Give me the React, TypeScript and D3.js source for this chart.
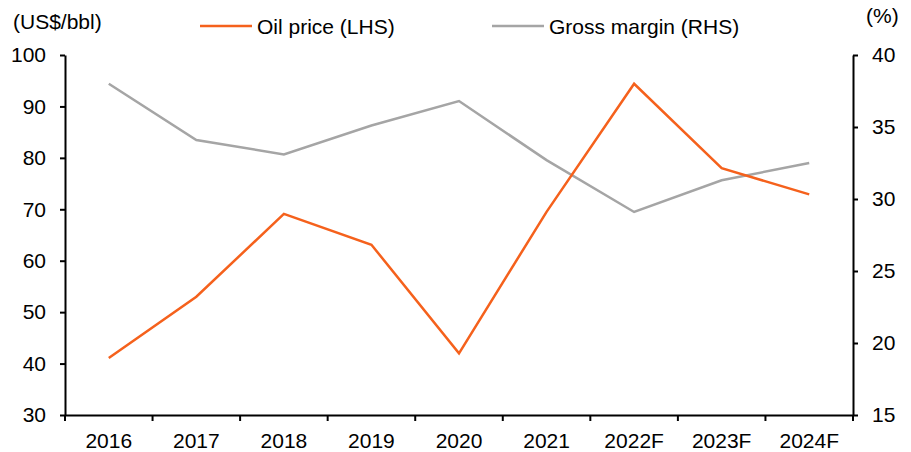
import { useEffect, useRef } from 'react';
import * as d3 from 'd3';

const years = ['2016', '2017', '2018', '2019', '2020', '2021', '2022F', '2023F', '2024F'];
const oilPrice = [41.1, 53.0, 69.1, 63.1, 42.0, 69.5, 94.4, 78.0, 72.9];
const grossMargin = [38.0, 34.1, 33.1, 35.1, 36.8, 32.7, 29.1, 31.3, 32.5];
const leftTicks = [30, 40, 50, 60, 70, 80, 90, 100];
const rightTicks = [15, 20, 25, 30, 35, 40];

const WIDTH = 911;
const HEIGHT = 452;
const FONT = '"Liberation Sans", Arial, sans-serif';
const FONT_SIZE = '21px';
const ORANGE = '#F5611C';
const GREY = '#A5A5A5';

export default function App() {
  const svgRef = useRef<SVGSVGElement>(null);

  useEffect(() => {
    document.body.style.margin = '0';
    if (!svgRef.current) return;

    const svg = d3.select(svgRef.current);
    svg.selectAll('*').remove();

    const margin = { top: 55, right: 58, bottom: 37, left: 65 };
    const x = d3.scaleBand()
      .domain(years)
      .range([margin.left, WIDTH - margin.right]);

    const yLeft = d3.scaleLinear()
      .domain([30, 100])
      .range([HEIGHT - margin.bottom, margin.top]);

    const yRight = d3.scaleLinear()
      .domain([15, 40])
      .range([HEIGHT - margin.bottom, margin.top]);

    const cx = (d: string) => (x(d) || 0) + x.bandwidth() / 2;

    // lines
    const oilLine = d3.line<number>()
      .x((_, i) => cx(years[i]))
      .y(d => yLeft(d));

    const marginLine = d3.line<number>()
      .x((_, i) => cx(years[i]))
      .y(d => yRight(d));

    svg.append('path')
      .datum(grossMargin)
      .attr('fill', 'none')
      .attr('stroke', GREY)
      .attr('stroke-width', 2.5)
      .attr('d', marginLine);

    svg.append('path')
      .datum(oilPrice)
      .attr('fill', 'none')
      .attr('stroke', ORANGE)
      .attr('stroke-width', 2.5)
      .attr('d', oilLine);

    const styleAxis = (g: d3.Selection<SVGGElement, unknown, null, undefined>) => {
      g.select('.domain').attr('stroke', '#000').attr('stroke-width', 2);
      g.selectAll('.tick line').attr('stroke', '#000').attr('stroke-width', 2);
      g.selectAll('.tick text')
        .attr('fill', '#000')
        .style('font-family', FONT)
        .style('font-size', FONT_SIZE);
    };

    // left axis
    svg.append('g')
      .attr('transform', `translate(${margin.left},0)`)
      .call(d3.axisLeft(yLeft).tickValues(leftTicks).tickSize(5).tickPadding(14).tickSizeOuter(0))
      .call(styleAxis);

    // right axis
    svg.append('g')
      .attr('transform', `translate(${WIDTH - margin.right},0)`)
      .call(d3.axisRight(yRight).tickValues(rightTicks).tickSize(5).tickPadding(14).tickSizeOuter(0))
      .call(styleAxis);

    // bottom axis, ticks sit on category boundaries
    const bottom = svg.append('g')
      .attr('transform', `translate(0,${HEIGHT - margin.bottom})`)
      .call(d3.axisBottom(x).tickSize(0).tickPadding(18).tickSizeOuter(0))
      .call(styleAxis);

    bottom.selectAll('line.bound')
      .data([...years.map(d => x(d) || 0), WIDTH - margin.right])
      .join('line')
      .attr('class', 'bound')
      .attr('x1', d => d)
      .attr('x2', d => d)
      .attr('y1', 0)
      .attr('y2', 6)
      .attr('stroke', '#000')
      .attr('stroke-width', 2);

    // unit labels
    svg.append('text')
      .attr('x', 13)
      .attr('y', 29)
      .text('(US$/bbl)')
      .style('font-family', FONT)
      .style('font-size', FONT_SIZE);

    svg.append('text')
      .attr('x', 866)
      .attr('y', 23)
      .text('(%)')
      .style('font-family', FONT)
      .style('font-size', FONT_SIZE);

    // legend
    const legend = [
      { name: 'Oil price (LHS)', color: ORANGE, x: 200 },
      { name: 'Gross margin (RHS)', color: GREY, x: 492 },
    ];

    legend.forEach(d => {
      const item = svg.append('g').attr('transform', `translate(${d.x},26)`);
      item.append('line')
        .attr('x1', 0)
        .attr('x2', 52)
        .attr('stroke', d.color)
        .attr('stroke-width', 2.5);
      item.append('text')
        .attr('x', 57)
        .attr('y', 7.5)
        .text(d.name)
        .style('font-family', FONT)
        .style('font-size', FONT_SIZE);
    });
  }, []);

  return <svg ref={svgRef} width={WIDTH} height={HEIGHT} style={{ display: 'block' }} />;
}
